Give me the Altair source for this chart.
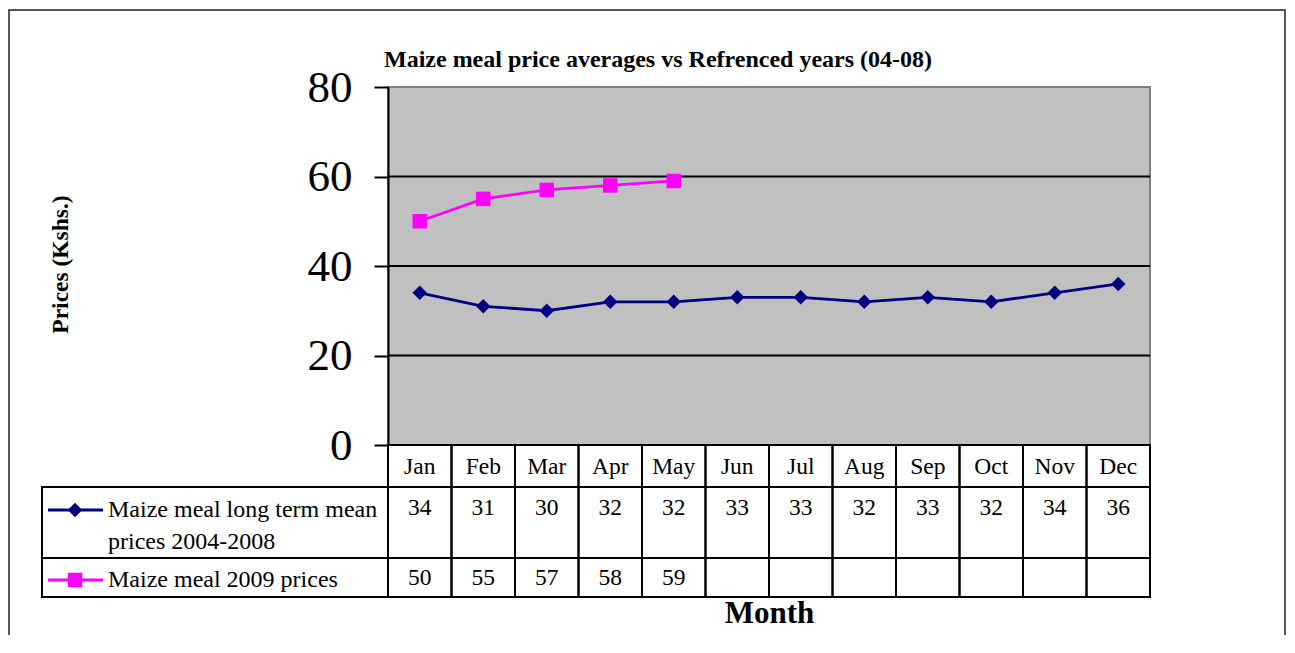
import altair as alt
import pandas as pd

# ---- data ----
months = ["Jan", "Feb", "Mar", "Apr", "May", "Jun", "Jul", "Aug", "Sep", "Oct", "Nov", "Dec"]
long_term = [34, 31, 30, 32, 32, 33, 33, 32, 33, 32, 34, 36]
prices_2009 = [50, 55, 57, 58, 59]
series_names = ["Maize meal long term mean prices 2004-2008", "Maize meal 2009 prices"]
legend_labels = [["Maize meal long term mean", "prices 2004-2008"], ["Maize meal 2009 prices"]]
series_colors = ["#000080", "#FF00FF"]
series_shapes = ["diamond", "square"]
y_ticks = [0, 20, 40, 60, 80]
grid_values = [20, 40, 60]

title_text = "Maize meal price averages vs Refrenced years (04-08)"
FONT = "Liberation Serif"

rows = []
for m, v in zip(months, long_term):
    rows.append({"series": series_names[0], "month": m, "value": v})
for m, v in zip(months, prices_2009):
    rows.append({"series": series_names[1], "month": m, "value": v})
df = pd.DataFrame(rows)
df_months = pd.DataFrame({"month": months})
df_grid = pd.DataFrame({"value": grid_values})
df_series = pd.DataFrame({"series": series_names})
df_one = pd.DataFrame({"a": [0]})

W, H = 762, 358
TFS = 23.5  # table font size

X_ENC = alt.X(
    "month:N",
    sort=months,
    scale=alt.Scale(type="band", domain=months, paddingInner=0, paddingOuter=0),
    axis=alt.Axis(
        orient="bottom", domain=False, ticks=False, labelAngle=0,
        labelFont=FONT, labelFontSize=TFS, labelColor="black",
        labelPadding=21, labelBaseline="middle",
        title="Month", titleFont=FONT, titleFontSize=31, titleFontWeight="bold",
        titleColor="black", titleY=168, titleBaseline="middle",
    ),
)
Y_ENC = alt.Y(
    "value:Q",
    scale=alt.Scale(domain=[0, 80], nice=False, zero=True),
    axis=alt.Axis(
        values=y_ticks, grid=False,
        domainColor="black", domainWidth=2,
        tickColor="black", tickWidth=2, tickSize=14,
        labelFont=FONT, labelFontSize=45, labelColor="black", labelPadding=22,
        title="Prices (Kshs.)", titleFont=FONT, titleFontSize=23.5,
        titleFontWeight="bold", titleColor="black",
        titleX=-328, titleY=177, titleAngle=270,
        titleAlign="center", titleBaseline="middle",
    ),
)
C_ENC = alt.Color("series:N", scale=alt.Scale(domain=series_names, range=series_colors), legend=None)
S_ENC = alt.Shape("series:N", scale=alt.Scale(domain=series_names, range=series_shapes), legend=None)

# outer frame
frame = alt.Chart(df_one).mark_rect(fillOpacity=0, stroke="#222222", strokeWidth=1.5).encode(
    x=alt.value(-379), x2=alt.value(897), y=alt.value(-77), y2=alt.value(700)
)

# gridlines
grid = alt.Chart(df_grid).mark_rule(color="black", strokeWidth=2).encode(y=Y_ENC)

lines = alt.Chart(df).mark_line(strokeWidth=2.8).encode(x=X_ENC, y=Y_ENC, color=C_ENC, detail="series:N")
points = alt.Chart(df).mark_point(filled=True, size=210, opacity=1).encode(
    x=X_ENC, y=Y_ENC, color=C_ENC, shape=S_ENC
)

# data table cells
cell_style = dict(fillOpacity=0, stroke="black", strokeWidth=2)
row_edges = [358, 400, 471, 510]
cells = []
for top, bot in zip(row_edges[:-1], row_edges[1:]):
    cells.append(
        alt.Chart(df_months).mark_rect(**cell_style).encode(
            x=X_ENC, y=alt.value(top), y2=alt.value(bot)
        )
    )
for top, bot in zip(row_edges[1:-1], row_edges[2:]):
    cells.append(
        alt.Chart(df_one).mark_rect(**cell_style).encode(
            x=alt.value(-346), x2=alt.value(0), y=alt.value(top), y2=alt.value(bot)
        )
    )

# table values
value_rows_y = [421, 491]
table_text = []
for s, yv in zip(series_names, value_rows_y):
    table_text.append(
        alt.Chart(df).transform_filter(alt.datum.series == s).mark_text(
            font=FONT, fontSize=TFS, color="black", baseline="middle"
        ).encode(x=X_ENC, text="value:Q", y=alt.value(yv))
    )

# legend keys inside the table
legend_layers = []
key_y = [423, 493]
label_y = [423, 493]
for s, ky, ly, lab in zip(series_names, key_y, label_y, legend_labels):
    legend_layers.append(
        alt.Chart(df_series).transform_filter(alt.datum.series == s).mark_rule(strokeWidth=2.8).encode(
            x=alt.value(-340), x2=alt.value(-285), y=alt.value(ky), color=C_ENC
        )
    )
    legend_layers.append(
        alt.Chart(df_series).transform_filter(alt.datum.series == s).mark_point(
            filled=True, size=210, opacity=1
        ).encode(x=alt.value(-313), y=alt.value(ky), color=C_ENC, shape=S_ENC)
    )
    legend_layers.append(
        alt.Chart(df_one).mark_text(
            font=FONT, fontSize=24, color="black", align="left", baseline="middle", lineHeight=32
        ).encode(x=alt.value(-280), y=alt.value(ly), text=alt.value(lab))
    )

chart = alt.layer(
    frame, grid, lines, points, *cells, *table_text, *legend_layers
).properties(
    width=W,
    height=H,
    autosize=alt.AutoSizeParams(type="none"),
    padding={"left": 380, "top": 79, "right": 136, "bottom": 190},
    title=alt.TitleParams(
        text=title_text, font=FONT, fontSize=24, fontWeight="bold", color="black",
        anchor="middle", dx=-111, dy=67, offset=4,
    ),
).configure(background="white").configure_view(
    fill="#C0C0C0", stroke="#808080", strokeWidth=2
)

chart.save("out.html", embed_options={"renderer": "svg", "actions": False})
